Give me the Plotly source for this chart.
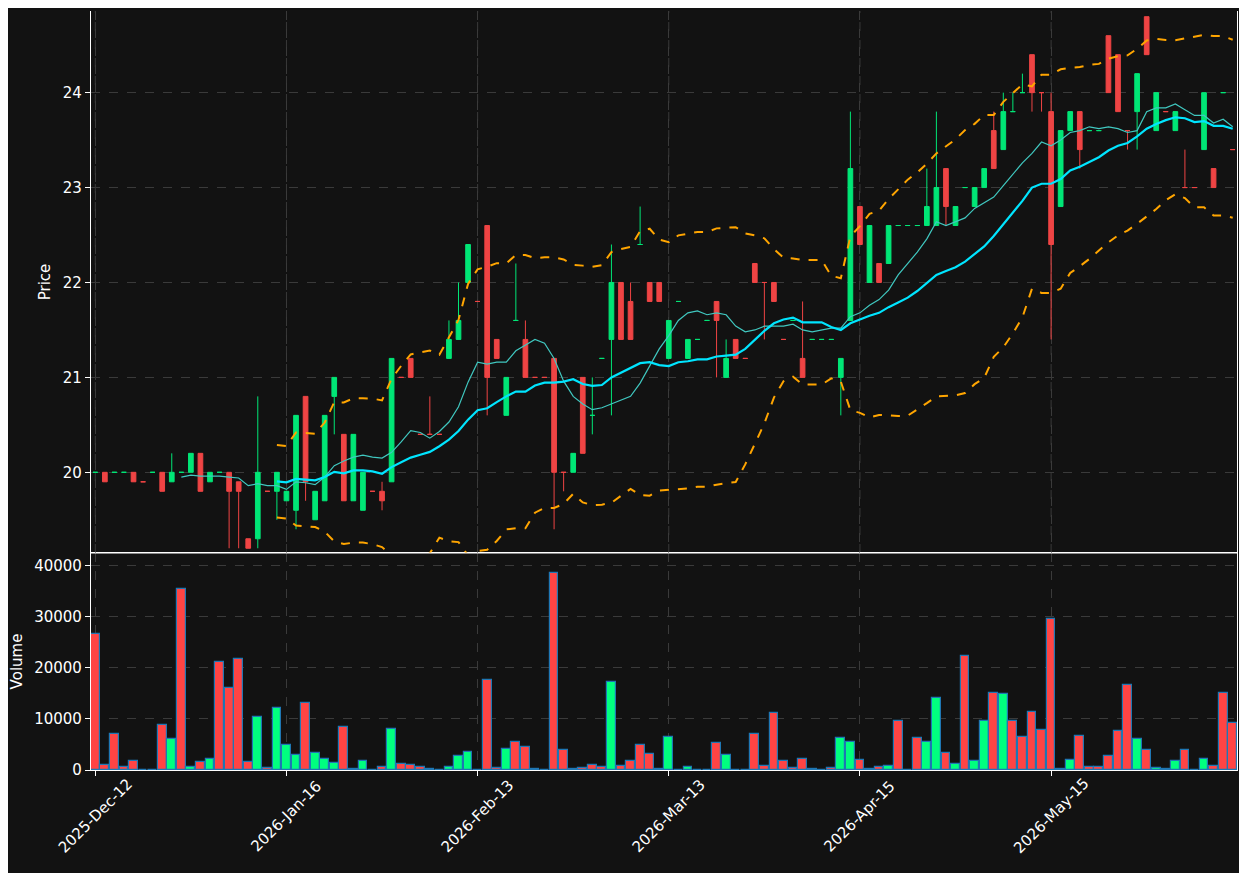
import plotly.graph_objects as go
import pandas as pd

opens = [20.0,20.0,20.0,20.0,20.0,19.9,20.0,20.0,19.9,20.0,
         20.0,20.2,19.9,20.0,20.0,19.9,19.3,19.3,19.8,19.8,
         19.7,19.6,20.8,19.5,19.7,20.8,20.4,19.7,19.6,19.8,
         19.8,19.9,21.0,21.2,20.4,20.4,20.4,21.2,21.4,22.0,
         21.8,22.6,21.4,20.6,21.6,21.4,21.0,21.0,21.2,20.0,
         20.0,21.0,20.6,21.2,21.4,22.0,21.8,22.4,22.0,22.0,
         21.2,21.8,21.2,21.4,21.6,21.8,21.0,21.4,21.2,22.2,
         22.0,22.0,21.4,21.6,21.2,21.4,21.4,21.4,21.0,21.6,
         22.8,22.0,22.2,22.2,22.6,22.6,22.6,22.6,22.6,23.2,
         22.6,23.0,22.8,23.0,23.6,23.4,23.8,24.0,24.4,24.0,
         23.8,22.8,23.6,23.8,23.6,23.6,24.6,24.4,23.6,23.8,
         24.8,23.6,23.8,23.6,23.0,23.0,23.4,23.2,24.0,23.4]
closes = [20.0,19.9,20.0,20.0,19.9,19.9,20.0,19.8,20.0,20.0,
          20.2,19.8,20.0,20.0,19.8,19.8,19.2,20.0,19.8,20.0,
          19.8,20.6,19.9,19.8,20.6,21.0,19.7,20.4,20.0,19.8,
          19.7,21.2,21.0,21.0,20.4,20.4,20.4,21.4,21.6,22.4,
          21.8,21.0,21.2,21.0,21.6,21.0,21.0,21.0,20.0,20.0,
          20.2,20.2,20.6,21.2,22.0,21.4,21.4,22.4,21.8,21.8,
          21.6,21.8,21.4,21.4,21.6,21.6,21.2,21.2,21.2,22.0,
          22.0,21.8,21.4,21.6,21.0,21.4,21.4,21.4,21.2,23.2,
          22.4,22.6,22.0,22.6,22.6,22.6,22.6,22.8,23.0,22.8,
          22.8,23.0,23.0,23.2,23.2,23.8,23.8,24.0,24.0,24.0,
          22.4,23.6,23.8,23.4,23.6,23.6,24.0,23.8,23.6,24.2,
          24.4,24.0,23.8,23.8,23.0,23.0,24.0,23.0,24.0,23.4]
highs = [20.0,20.0,20.0,20.0,20.0,19.9,20.0,20.0,20.2,20.0,
         20.2,20.2,20.0,20.0,20.0,19.9,19.3,20.8,19.8,20.0,
         19.8,20.6,20.8,19.8,20.6,21.0,20.4,20.4,20.0,19.8,
         19.9,21.2,21.0,21.2,20.4,20.8,20.4,21.6,22.0,22.4,
         21.8,22.6,21.4,21.0,22.2,21.6,21.0,21.0,21.2,20.0,
         20.2,21.0,21.0,21.2,22.4,22.0,22.0,22.8,22.0,22.0,
         21.6,21.8,21.4,21.4,21.6,21.8,21.4,21.4,21.2,22.2,
         22.0,22.0,21.4,21.6,21.8,21.4,21.4,21.4,21.2,23.8,
         22.8,22.6,22.2,22.6,22.6,22.6,22.6,23.2,23.8,23.2,
         22.8,23.0,23.0,23.2,23.8,24.0,24.0,24.2,24.4,24.0,
         24.0,23.6,23.8,23.8,23.6,23.6,24.6,24.4,23.6,24.2,
         24.8,24.0,23.8,23.8,23.4,23.0,24.0,23.2,24.0,23.4]
lows = [20.0,19.9,20.0,20.0,19.9,19.9,20.0,19.8,19.9,20.0,
        20.0,19.8,19.9,20.0,19.2,19.2,19.2,19.2,19.8,19.5,
        19.7,19.4,19.7,19.5,19.7,20.4,19.7,19.7,19.6,19.8,
        19.6,19.9,21.0,21.0,20.4,20.4,20.4,21.2,21.4,22.0,
        21.8,20.6,21.2,20.6,21.6,21.0,21.0,21.0,19.4,19.8,
        20.0,20.2,20.4,21.2,20.6,21.4,21.4,22.4,21.8,21.8,
        21.2,21.8,21.2,21.4,21.6,21.0,21.0,21.2,21.2,22.0,
        21.4,21.8,21.4,21.6,21.0,21.4,21.4,21.4,20.6,21.6,
        22.4,22.0,22.0,22.2,22.6,22.6,22.6,22.6,22.6,22.6,
        22.6,23.0,22.8,23.0,23.2,23.4,23.8,24.0,23.8,23.8,
        21.4,22.8,23.6,23.2,23.6,23.6,24.0,23.8,23.4,23.4,
        24.4,23.6,23.8,23.6,23.0,23.0,23.4,23.0,24.0,23.4]
volumes = [26600,900,7000,500,1700,0,0,8800,6000,35400,
           500,1500,2100,21100,16000,21700,1500,10300,300,12100,
           4800,2900,13100,3300,2100,1300,8400,100,1700,0,
           500,8000,1100,900,500,100,0,500,2700,3500,
           0,17600,300,4200,5400,4600,100,0,38600,3900,
           100,300,900,500,17200,700,1700,4800,3100,100,
           6400,0,500,0,0,5200,2900,0,0,7000,
           700,11100,1700,300,2100,100,0,300,6200,5400,
           1900,100,500,700,9500,0,6200,5400,14200,3300,
           1100,22300,1700,9500,15000,14800,9500,6400,11300,7800,
           29500,100,1900,6600,500,500,2700,7600,16600,6000,
           3900,300,100,1700,3900,0,2100,700,15000,9200]
tick_idx = [0, 20, 40, 60, 80, 100]
tick_labels = ["2025-Dec-12", "2026-Jan-16", "2026-Feb-13", "2026-Mar-13", "2026-Apr-15", "2026-May-15"]
vol_ticks = [0, 10000, 20000, 30000, 40000]
price_ticks = [20, 21, 22, 23, 24]

x = list(range(len(closes)))
c = pd.Series(closes)
ma10 = c.rolling(10).mean()
ma20 = c.rolling(20).mean()
sd20 = c.rolling(20).std(ddof=0)
bb_up = ma20 + 2 * sd20
bb_lo = ma20 - 2 * sd20

GREEN_C, RED_C = "#00e676", "#ef4444"
GREEN_V, RED_V = "#00ff7f", "#ff4444"
vol_colors = [GREEN_V if cl > op else RED_V for op, cl in zip(opens, closes)]

fig = go.Figure()
fig.add_trace(go.Candlestick(x=x, open=opens, high=highs, low=lows, close=closes,
                             increasing=dict(line=dict(color=GREEN_C, width=1), fillcolor=GREEN_C),
                             decreasing=dict(line=dict(color=RED_C, width=1), fillcolor=RED_C),
                             whiskerwidth=0, showlegend=False, yaxis="y2", xaxis="x"))
fig.add_trace(go.Scatter(x=x, y=ma10, mode="lines", line=dict(color="#40c8c0", width=1.2),
                         showlegend=False, yaxis="y2", hoverinfo="skip"))
fig.add_trace(go.Scatter(x=x, y=ma20, mode="lines", line=dict(color="#00e5ff", width=2.2),
                         showlegend=False, yaxis="y2", hoverinfo="skip"))
for b in (bb_up, bb_lo):
    fig.add_trace(go.Scatter(x=x, y=b, mode="lines", line=dict(color="#ffa500", width=2, dash="dash"),
                             showlegend=False, yaxis="y2", hoverinfo="skip"))
fig.add_trace(go.Bar(x=x, y=volumes, marker=dict(color=vol_colors, line=dict(color="#1f77b4", width=1.2)),
                     width=0.92, showlegend=False, yaxis="y"))

grid = dict(showgrid=True, gridcolor="#3a3a3a", griddash="dash", gridwidth=1)
ax_common = dict(showline=True, linecolor="white", linewidth=1.2, mirror=True, zeroline=False,
                 automargin=False, ticks="outside", tickcolor="white",
                 tickfont=dict(color="white", size=15, family="DejaVu Sans"), **grid)
split = (770 - 553) / 759
fig.update_layout(
    width=1247, height=873,
    margin=dict(l=83, r=18, t=3, b=111),
    paper_bgcolor="#121212", plot_bgcolor="#121212",
    font=dict(family="DejaVu Sans", color="white", size=14),
    bargap=0,
    xaxis=dict(range=[-0.45, 119.45], tickvals=tick_idx, ticktext=[""] * len(tick_idx),
               rangeslider=dict(visible=False), anchor="y", **ax_common),
    yaxis=dict(domain=[0, split], range=[0, 42500], tickvals=vol_ticks,
               ticktext=[str(v) for v in vol_ticks],
               title=dict(text="Volume", font=dict(size=15), standoff=8), anchor="x", **ax_common),
    yaxis2=dict(domain=[split, 1], range=[19.15, 24.86], tickvals=price_ticks,
                ticktext=[str(v) for v in price_ticks],
                title=dict(text="Price", font=dict(size=15), standoff=8), anchor="x", **ax_common),
)
for t, lab in zip(tick_idx, tick_labels):
    fig.add_annotation(x=t, xref="x", y=-46 / 759, yref="paper", text=lab, showarrow=False,
                       textangle=-45, xanchor="center", yanchor="middle",
                       font=dict(color="white", size=15, family="DejaVu Sans"))
fig.add_shape(type="line", xref="paper", yref="paper", x0=0, x1=1, y0=split, y1=split,
              line=dict(color="white", width=1.2))
for t in tick_idx:
    fig.add_shape(type="line", xref="x", yref="paper", x0=t, x1=t, y0=split, y1=1,
                  line=dict(color="#3a3a3a", width=1, dash="dash"), layer="below")
fig.write_html("out.html")
